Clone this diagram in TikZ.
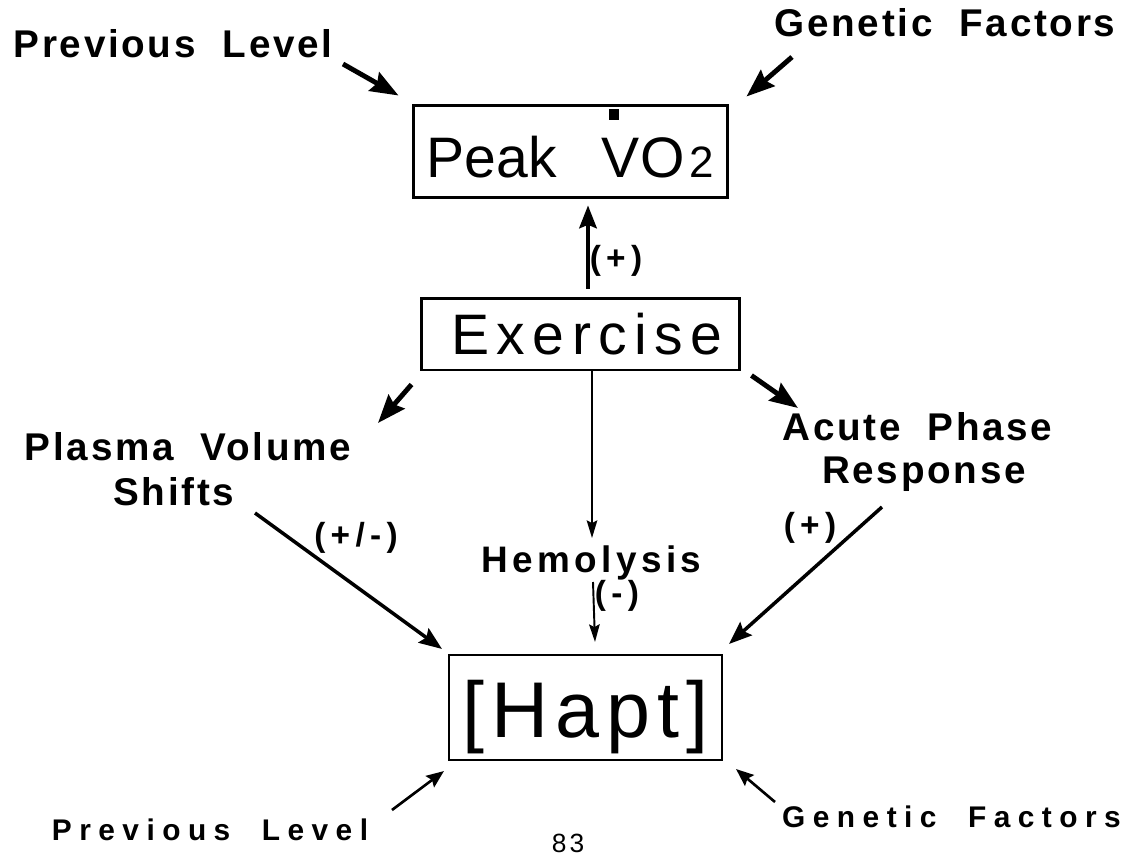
\documentclass[tikz,border=0pt]{standalone}
\usepackage{fontspec}
\setmainfont{Liberation Sans}
\newfontfamily\labfont[LetterSpace=7,WordSpace=2]{Liberation Sans}
\newfontfamily\lowfont[LetterSpace=25,WordSpace=2]{Liberation Sans}
\newfontfamily\hemfont[LetterSpace=12]{Liberation Sans}
\newfontfamily\smallfont[LetterSpace=16]{Liberation Sans}
\newfontfamily\pagefont[LetterSpace=12]{Liberation Sans}
\newfontfamily\exfont[LetterSpace=13]{Liberation Sans}
\newfontfamily\haptfont[LetterSpace=9]{Liberation Sans}
\usetikzlibrary{arrows.meta}
\newcommand\mydotV{\makebox[0pt][l]{\hspace{0.12em}\raisebox{1.02em}{\rule{0.18em}{0.18em}}}V}
\begin{document}
\begin{tikzpicture}[x=0.02cm,y=-0.02cm,
  lbl/.style={inner sep=0pt, anchor=base, font=\labfont\bfseries\fontsize{22}{24}\selectfont},
  lowlbl/.style={inner sep=0pt, anchor=base, font=\lowfont\bfseries\fontsize{17}{20}\selectfont},
  hemlbl/.style={inner sep=0pt, anchor=base, font=\hemfont\bfseries\fontsize{21}{24}\selectfont},
  sign/.style={inner sep=0pt, font=\smallfont\bfseries\fontsize{19}{22}\selectfont},
  box/.style={draw, line width=1.7pt, inner sep=0pt, text depth=0pt},
  heavy/.style={line width=2.8pt, -{Stealth[length=16pt,width=12pt,inset=2pt]}},
  medium/.style={line width=2pt, -{Stealth[length=13pt,width=10pt,inset=2pt]}},
  light/.style={line width=1.5pt, -{Stealth[length=10pt,width=8pt,inset=1.5pt]}},
  thin/.style={line width=1.1pt, -{Stealth[length=10pt,width=6pt,inset=1.5pt]}}]
\useasboundingbox (0,0) rectangle (1136,855);
\fill[white] (0,0) rectangle (1136,855);

% boxes
\node[box, minimum width=6.3cm, minimum height=1.86cm, text height=1.06cm,
      font=\fontsize{32.5}{36}\selectfont] (peak) at (570.5,151.5)
  {Peak\hspace{0.9cm}\mydotV O\hspace{3pt}{\fontsize{25}{25}\selectfont 2}};
\node[box, minimum width=6.38cm, minimum height=1.44cm, text height=0.84cm,
      font=\exfont\fontsize{32.5}{36}\selectfont] (exercise) at (580.5,334)
  {\hspace{0.26cm}Exercise};
\node[box, line width=1.2pt, minimum width=5.46cm, minimum height=2.1cm, text height=1.18cm,
      font=\haptfont\fontsize{45}{50}\selectfont] (hapt) at (585.5,707.5)
  {[Hapt]};

% labels
\node[lbl] (prevtop) at (173,58) {Previous Level};
\node[lbl] (gentop) at (945,37) {Genetic Factors};
\node[lbl] (plasma1) at (188,460) {Plasma Volume};
\node[lbl] (plasma2) at (174,505) {Shifts};
\node[lbl] (acute1) at (917.5,440) {Acute Phase};
\node[lbl] (acute2) at (924,483) {Response};
\node[hemlbl] (hemo) at (591.5,572) {Hemolysis};
\node[lowlbl] (prevbot) at (210,840) {Previous Level};
\node[lowlbl] (genbot) at (951.5,827) {Genetic Factors};
\node[inner sep=0pt, font=\pagefont\fontsize{15}{17}\selectfont] (page) at (568,843) {83};

% sign labels
\node[sign] (s1) at (616,261) {(+)};
\node[sign] (s2) at (356,538) {(+/-)};
\node[sign] (s3) at (810,528) {(+)};
\node[sign] (s4) at (617,596) {(-)};

% connectors
\draw[heavy] ([shift={(170,6)}]prevtop.base) -- ([shift={(-13,-8)}]peak.north west);
\draw[heavy] ([shift={(-153,20)}]gentop.base) -- ([shift={(17,-7)}]peak.north east);
\draw[medium] ([shift={(7.5,-8)}]exercise.north) -- ([shift={(17.5,6)}]peak.south);
\draw[heavy] ([shift={(-8,13)}]exercise.south west) -- ([shift={(190,-37)}]plasma1.base);
\draw[heavy] ([shift={(10,4)}]exercise.south east) -- ([shift={(-119.5,-32)}]acute1.base);
\draw[thin] ([shift={(11.5,0)}]exercise.south) -- ([shift={(0.5,-34)}]hemo.base);
\draw[medium] ([shift={(81,8)}]plasma2.base) -- ([shift={(-6,-5)}]hapt.north west);
\draw[medium] ([shift={(-42,24)}]acute2.base) -- ([shift={(6,-10)}]hapt.north east);
\draw[thin] ([shift={(1.5,10)}]hemo.base) -- ([shift={(9.5,-12)}]hapt.north);
\draw[light] ([shift={(182,-30)}]prevbot.base) -- ([shift={(-4,10)}]hapt.south west);
\draw[light] ([shift={(-176.5,-25)}]genbot.base) -- ([shift={(13,8)}]hapt.south east);
\end{tikzpicture}
\end{document}
